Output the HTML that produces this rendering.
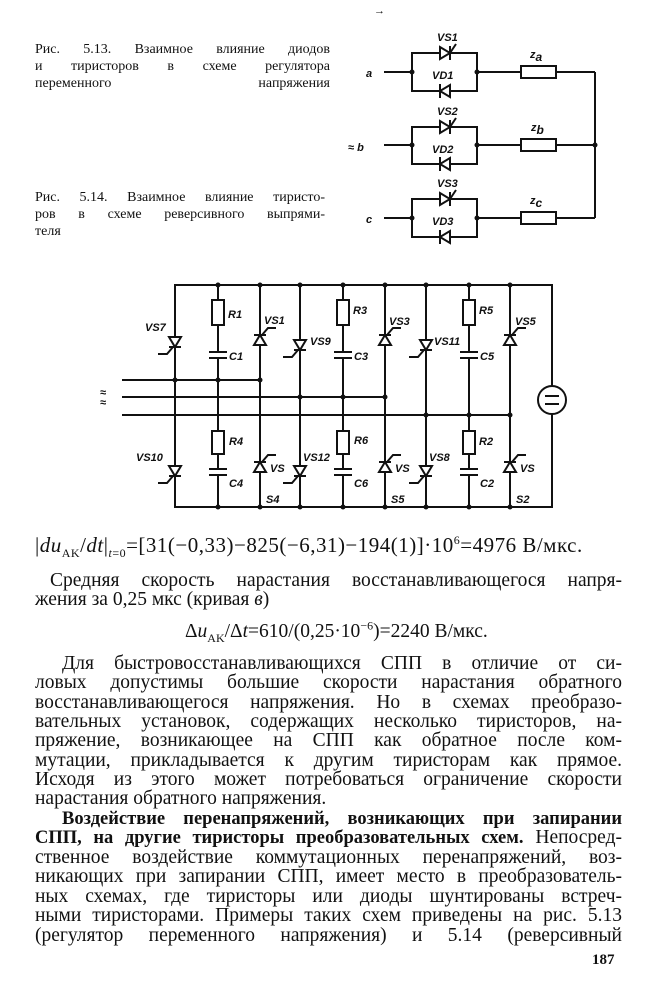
<!DOCTYPE html>
<html><head><meta charset="utf-8"><style>
body{margin:0;background:#fff;}
#p{position:relative;width:645px;height:1000px;overflow:hidden;background:#fff;font-family:"Liberation Serif","DejaVu Serif",serif;color:#111;}
.l{position:absolute;left:35px;width:587px;font-size:19.5px;line-height:20px;text-align:justify;text-align-last:justify;white-space:nowrap;}
.n{text-align-last:left;}
.c{position:absolute;left:35px;width:295px;font-size:14px;line-height:16px;text-align:justify;text-align-last:justify;white-space:nowrap;}
sub,sup{line-height:0;}
svg{position:absolute;left:0;top:0;}
svg text{font-family:"Liberation Sans",sans-serif;font-style:italic;font-weight:bold;font-size:11px;fill:#111;}
</style></head><body><div id="p">
<svg width="645" height="1000" viewBox="0 0 645 1000" stroke="#111" stroke-width="2" fill="none">
<g>
<line x1="384" y1="72" x2="412" y2="72"/><rect x="412" y="53" width="65" height="38"/>
<line x1="477" y1="72" x2="521" y2="72"/><rect x="521" y="66" width="35" height="12"/><line x1="556" y1="72" x2="595" y2="72"/>
<line x1="384" y1="145" x2="412" y2="145"/><rect x="412" y="127" width="65" height="37"/>
<line x1="477" y1="145" x2="521" y2="145"/><rect x="521" y="139" width="35" height="12"/><line x1="556" y1="145" x2="595" y2="145"/>
<line x1="384" y1="218" x2="412" y2="218"/><rect x="412" y="199" width="65" height="38"/>
<line x1="477" y1="218" x2="521" y2="218"/><rect x="521" y="212" width="35" height="12"/><line x1="556" y1="218" x2="595" y2="218"/>
<line x1="595" y1="72" x2="595" y2="218"/>
<g fill="#111" stroke="none"><circle cx="412" cy="72" r="2.5"/><circle cx="477" cy="72" r="2.5"/><circle cx="412" cy="145" r="2.5"/><circle cx="477" cy="145" r="2.5"/><circle cx="412" cy="218" r="2.5"/><circle cx="477" cy="218" r="2.5"/><circle cx="595" cy="145" r="2.5"/>
<polygon points="440,47 440,59 450,53" fill="#fff" stroke="#111" stroke-width="2"/><polygon points="440,121 440,133 450,127" fill="#fff" stroke="#111" stroke-width="2"/><polygon points="440,193 440,205 450,199" fill="#fff" stroke="#111" stroke-width="2"/>
<polygon points="450,85 450,97 440,91" fill="#fff" stroke="#111" stroke-width="2"/><polygon points="450,158 450,170 440,164" fill="#fff" stroke="#111" stroke-width="2"/><polygon points="450,231 450,243 440,237" fill="#fff" stroke="#111" stroke-width="2"/>
</g>
<path d="M450 46V60M450 53L456 44M450 120V134M450 127L456 118M450 192V206M450 199L456 190M440 84V98M440 157V171M440 230V244"/>
</g>
<g stroke="none">
<text x="437" y="41">VS1</text><text x="432" y="79">VD1</text><text x="437" y="115">VS2</text><text x="432" y="153">VD2</text><text x="437" y="187">VS3</text><text x="432" y="225">VD3</text>
<text x="530" y="58" font-size="15">z<tspan font-size="12" dy="3">a</tspan></text>
<text x="531" y="131" font-size="15">z<tspan font-size="12" dy="3">b</tspan></text>
<text x="530" y="204" font-size="15">z<tspan font-size="12" dy="3">c</tspan></text>
<text x="366" y="77" font-size="15">a</text><text x="348" y="151" font-size="15">≈ b</text><text x="366" y="223" font-size="15">c</text>
<text x="374" y="14" font-size="13" font-style="normal">→</text>
</g>
<rect x="175" y="285" width="377" height="222"/>
<path d="M218 285V507M260 285V507M300 285V507M343 285V507M385 285V507M426 285V507M469 285V507M510 285V507"/>
<path d="M122 380H260M122 397H385M122 415H510"/>
<circle cx="552" cy="400" r="14" fill="#fff"/><path d="M545 396H559M545 404H559"/>
<g fill="#fff">
<rect x="212" y="300" width="12" height="25"/><rect x="337" y="300" width="12" height="25"/><rect x="463" y="300" width="12" height="25"/>
<rect x="212" y="431" width="12" height="23"/><rect x="337" y="431" width="12" height="23"/><rect x="463" y="431" width="12" height="23"/>
<rect x="210" y="352" width="16" height="6" stroke="none"/><rect x="335" y="352" width="16" height="6" stroke="none"/><rect x="461" y="352" width="16" height="6" stroke="none"/>
<rect x="210" y="469" width="16" height="6" stroke="none"/><rect x="335" y="469" width="16" height="6" stroke="none"/><rect x="461" y="469" width="16" height="6" stroke="none"/>
</g>
<path d="M209 352H227M209 358H227M334 352H352M334 358H352M460 352H478M460 358H478M209 469H227M209 475H227M334 469H352M334 475H352M460 469H478M460 475H478"/>
<g fill="#fff">
<polygon points="169,337 181,337 175,347"/><polygon points="294,340 306,340 300,350"/><polygon points="420,340 432,340 426,350"/>
<polygon points="169,466 181,466 175,476"/><polygon points="294,466 306,466 300,476"/><polygon points="420,466 432,466 426,476"/>
<polygon points="254,345 266,345 260,335"/><polygon points="379,345 391,345 385,335"/><polygon points="504,345 516,345 510,335"/>
<polygon points="254,472 266,472 260,462"/><polygon points="379,472 391,472 385,462"/><polygon points="504,472 516,472 510,462"/>
</g>
<path d="M169 347H181M173 347L167 354H158M294 350H306M298 350L292 357H283M420 350H432M424 350L418 357H409
M169 476H181M173 476L167 483H158M294 476H306M298 476L292 483H283M420 476H432M424 476L418 483H409
M254 335H266M262 335L268 328H276M379 335H391M387 335L393 328H401M504 335H516M512 335L518 328H526
M254 462H266M262 462L268 455H276M379 462H391M387 462L393 455H401M504 462H516M512 462L518 455H526"/>
<g fill="#111" stroke="none">
<circle cx="218" cy="285" r="2.5"/><circle cx="260" cy="285" r="2.5"/><circle cx="300" cy="285" r="2.5"/><circle cx="343" cy="285" r="2.5"/><circle cx="385" cy="285" r="2.5"/><circle cx="426" cy="285" r="2.5"/><circle cx="469" cy="285" r="2.5"/><circle cx="510" cy="285" r="2.5"/>
<circle cx="218" cy="507" r="2.5"/><circle cx="260" cy="507" r="2.5"/><circle cx="300" cy="507" r="2.5"/><circle cx="343" cy="507" r="2.5"/><circle cx="385" cy="507" r="2.5"/><circle cx="426" cy="507" r="2.5"/><circle cx="469" cy="507" r="2.5"/><circle cx="510" cy="507" r="2.5"/>
<circle cx="175" cy="380" r="2.5"/><circle cx="218" cy="380" r="2.5"/><circle cx="260" cy="380" r="2.5"/>
<circle cx="300" cy="397" r="2.5"/><circle cx="343" cy="397" r="2.5"/><circle cx="385" cy="397" r="2.5"/>
<circle cx="426" cy="415" r="2.5"/><circle cx="469" cy="415" r="2.5"/><circle cx="510" cy="415" r="2.5"/>
<text x="145" y="331">VS7</text><text x="228" y="318">R1</text><text x="264" y="324">VS1</text><text x="229" y="360">C1</text>
<text x="310" y="345">VS9</text><text x="353" y="314">R3</text><text x="389" y="325">VS3</text><text x="354" y="360">C3</text>
<text x="434" y="345">VS11</text><text x="479" y="314">R5</text><text x="515" y="325">VS5</text><text x="480" y="360">C5</text>
<text x="136" y="461">VS10</text><text x="229" y="445">R4</text><text x="270" y="472">VS</text><text x="229" y="487">C4</text><text x="266" y="503">S4</text>
<text x="303" y="461">VS12</text><text x="354" y="444">R6</text><text x="395" y="472">VS</text><text x="354" y="487">C6</text><text x="391" y="503">S5</text>
<text x="429" y="461">VS8</text><text x="479" y="445">R2</text><text x="520" y="472">VS</text><text x="480" y="487">C2</text><text x="516" y="503">S2</text>
<text x="100" y="406" font-size="20" font-style="normal" font-weight="normal">≈</text><text x="100" y="396" font-size="20" font-style="normal" font-weight="normal">≈</text>
</g>
</svg>
<div class="c" style="top:42px">Рис. 5.13. Взаимное влияние диодов</div>
<div class="c" style="top:59px">и тиристоров в схеме регулятора</div>
<div class="c n" style="top:76px">переменного напряжения</div>
<div class="c" style="top:190px;width:290px">Рис. 5.14. Взаимное влияние тиристо-</div>
<div class="c" style="top:207px;width:290px">ров в схеме реверсивного выпрями-</div>
<div class="c n" style="top:224px">теля</div>
<div class="l n" style="top:535px;font-size:21px;letter-spacing:0.5px">|<i>du</i><sub style="font-size:12px">AK</sub>/<i>dt</i>|<sub style="font-size:12px"><i>t</i>=0</sub>=[31(−0,33)−825(−6,31)−194(1)]·10<sup style="font-size:12px">6</sup>=4976 В/мкс.</div>
<div class="l" style="top:571px;left:50px;width:572px">Средняя скорость нарастания восстанавливающегося напря-</div>
<div class="l n" style="top:590px">жения за 0,25 мкс (кривая <i>в</i>)</div>
<div class="l n" style="top:622px;left:185px;width:330px">Δ<i>u</i><sub style="font-size:12px">AK</sub>/Δ<i>t</i>=610/(0,25·10<sup style="font-size:12px">−6</sup>)=2240 В/мкс.</div>
<div class="l" style="top:654px;left:62px;width:560px">Для быстровосстанавливающихся СПП в отличие от си-</div>
<div class="l" style="top:673px">ловых допустимы большие скорости нарастания обратного</div>
<div class="l" style="top:693px">восстанавливающегося напряжения. Но в схемах преобразо-</div>
<div class="l" style="top:712px">вательных установок, содержащих несколько тиристоров, на-</div>
<div class="l" style="top:731px">пряжение, возникающее на СПП как обратное после ком-</div>
<div class="l" style="top:751px">мутации, прикладывается к другим тиристорам как прямое.</div>
<div class="l" style="top:770px">Исходя из этого может потребоваться ограничение скорости</div>
<div class="l n" style="top:789px">нарастания обратного напряжения.</div>
<div class="l" style="top:809px;left:62px;width:560px;font-size:18.5px"><b>Воздействие перенапряжений, возникающих при запирании</b></div>
<div class="l" style="top:828px"><b style="font-size:18.5px">СПП, на другие тиристоры преобразовательных схем.</b> Непосред-</div>
<div class="l" style="top:848px">ственное воздействие коммутационных перенапряжений, воз-</div>
<div class="l" style="top:867px">никающих при запирании СПП, имеет место в преобразователь-</div>
<div class="l" style="top:887px">ных схемах, где тиристоры или диоды шунтированы встреч-</div>
<div class="l" style="top:906px">ными тиристорами. Примеры таких схем приведены на рис. 5.13</div>
<div class="l" style="top:926px">(регулятор переменного напряжения) и 5.14 (реверсивный</div>
<div style="position:absolute;left:592px;top:952px;font-size:15px;font-weight:bold;">187</div>
</div></body></html>
